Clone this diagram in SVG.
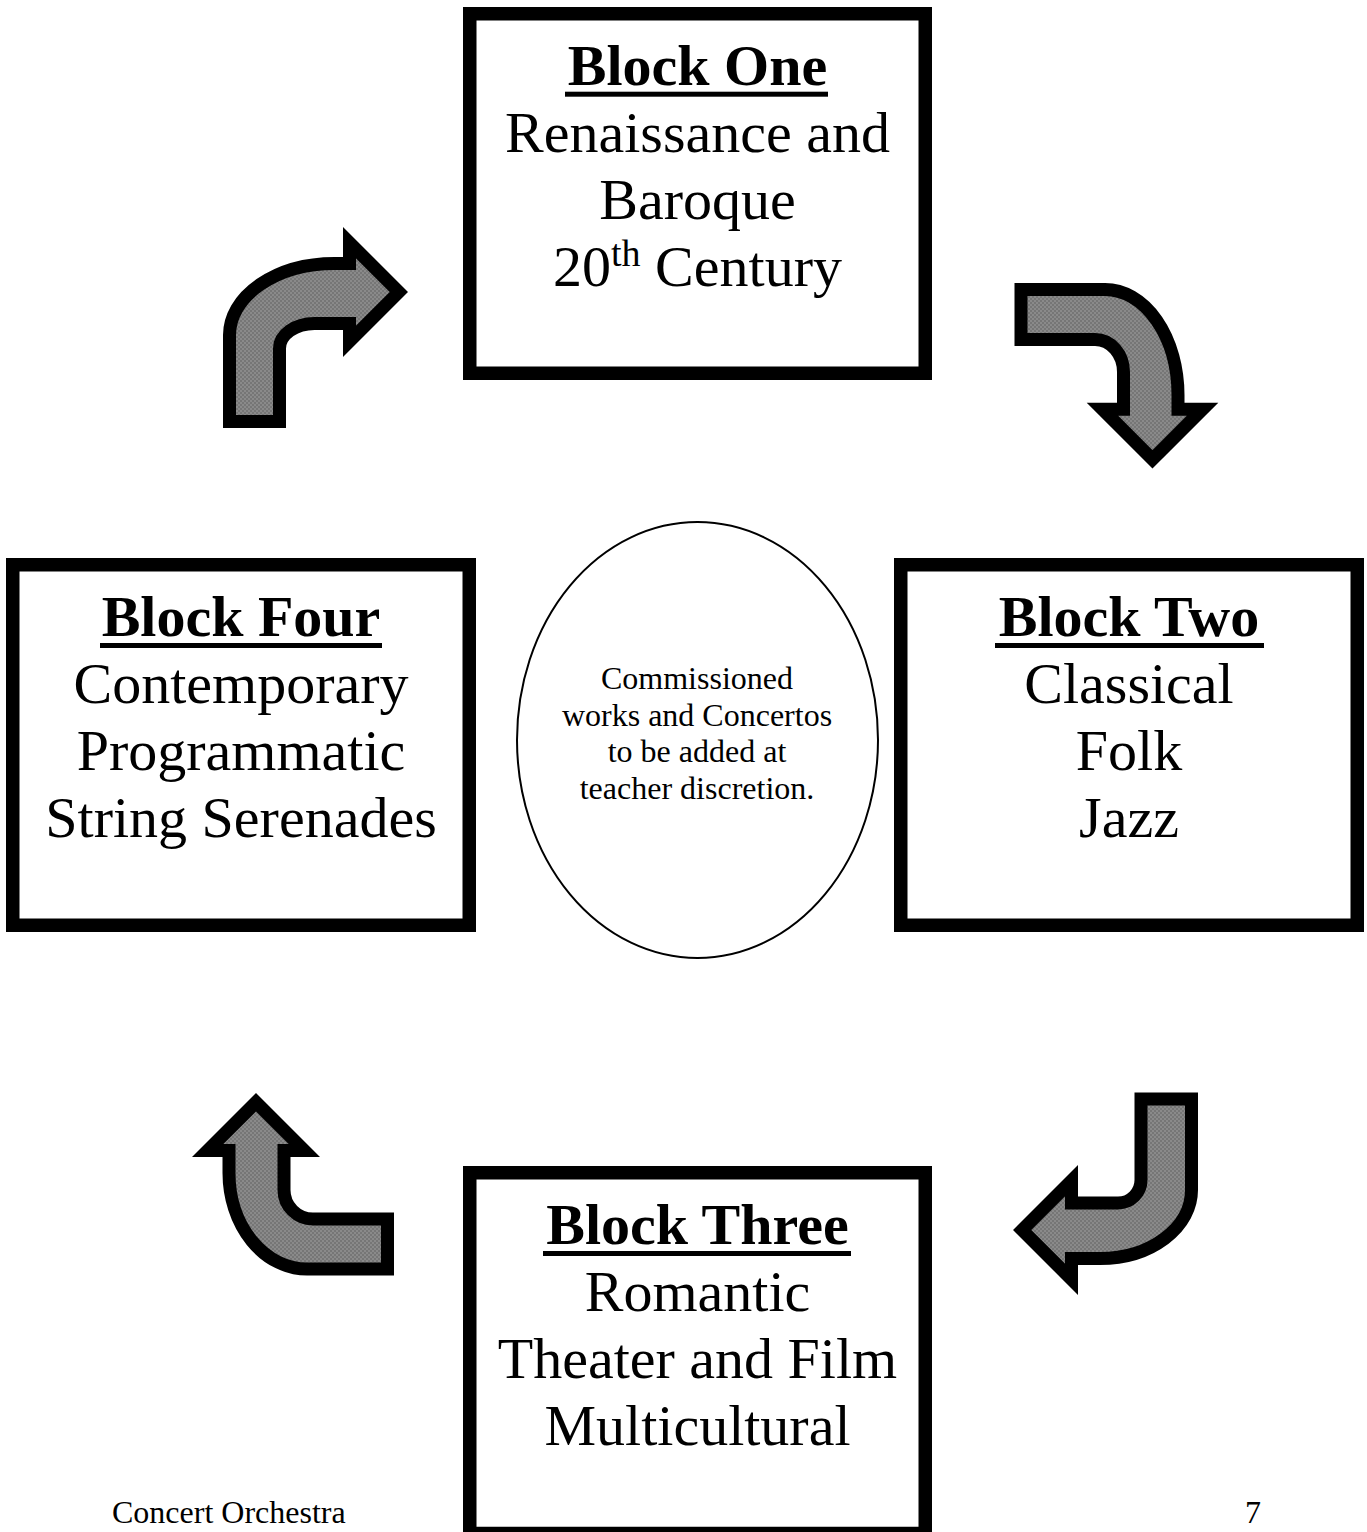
<svg xmlns="http://www.w3.org/2000/svg" width="1367" height="1532" viewBox="0 0 1367 1532">
<style>
.box{fill:#fff;stroke:#000;stroke-width:13.5}
.arrow{fill:url(#checker);stroke:#000;stroke-width:13;stroke-linejoin:miter;stroke-miterlimit:10}
.t{font-family:"Liberation Serif","Times New Roman",serif;fill:#000;text-anchor:middle}
.big{font-size:58px}
.hd{font-size:58px;font-weight:bold}
.sm{font-size:32px}
.ul{fill:#000}
</style>
<defs>
<pattern id="checker" width="4" height="4" patternUnits="userSpaceOnUse">
<rect width="4" height="4" fill="#8a8a8a"/>
<rect width="2" height="2" fill="#767676"/>
<rect x="2" y="2" width="2" height="2" fill="#767676"/>
</pattern>
</defs>
<rect width="1367" height="1532" fill="#fff"/>

<g id="connectors">
<path class="arrow" d="M229.5 421.5 L229.5 335 A105 71.5 0 0 1 334.5 263.5 L349.5 263.5 L349.5 242.7 L398.8 292 L349.5 341.3 L349.5 323.5 L314.5 323.5 A35 25 0 0 0 279.5 348.5 L279.5 421.5 Z"/>
<path class="arrow" d="M1021 289.5 L1105 289.5 A73 105.5 0 0 1 1178 395 L1178 409.2 L1202.6 409.2 L1152.5 459.3 L1102.4 409.2 L1123.5 409.2 L1123.5 372 A28.5 32.5 0 0 0 1095 339.5 L1021 339.5 Z"/>
<path class="arrow" d="M1141 1099 L1191.5 1099 L1191.5 1190 A91.5 68.5 0 0 1 1100 1258.5 L1071.5 1258.5 L1071.5 1279.3 L1022.2 1230 L1071.5 1180.7 L1071.5 1203 L1118 1203 A23 23 0 0 0 1141 1180 Z"/>
<path class="arrow" d="M387.5 1219 L387.5 1269 L307 1269 A78 96 0 0 1 229 1173 L229 1150.5 L207.7 1150.5 L256 1102.2 L304.3 1150.5 L284 1150.5 L284 1190 A29 29 0 0 0 313 1219 Z"/>
</g>

<g id="block-one">
<rect class="box" x="469.75" y="13.75" width="455.5" height="359.5"/>
<text class="t hd" x="697.5" y="85">Block One</text>
<rect class="ul" x="565" y="91.7" width="263" height="5"/>
<text class="t big" x="697.5" y="152">Renaissance and</text>
<text class="t big" x="697.5" y="219">Baroque</text>
<text class="t big" x="697.5" y="286">20<tspan font-size="38" dy="-20">th</tspan><tspan dy="20"> Century</tspan></text>
</g>

<g id="block-two">
<rect class="box" x="900.75" y="564.75" width="456.5" height="360.5"/>
<text class="t hd" x="1129" y="636">Block Two</text>
<rect class="ul" x="995" y="643" width="269" height="5"/>
<text class="t big" x="1129" y="703">Classical</text>
<text class="t big" x="1129" y="770">Folk</text>
<text class="t big" x="1129" y="837">Jazz</text>
</g>

<g id="block-three">
<rect class="box" x="469.75" y="1172.75" width="455.5" height="360.75"/>
<text class="t hd" x="697.5" y="1244">Block Three</text>
<rect class="ul" x="543" y="1251" width="308" height="5"/>
<text class="t big" x="697.5" y="1311">Romantic</text>
<text class="t big" x="697.5" y="1378">Theater and Film</text>
<text class="t big" x="697.5" y="1445">Multicultural</text>
</g>

<g id="block-four">
<rect class="box" x="12.75" y="564.75" width="456.5" height="360.5"/>
<text class="t hd" x="241" y="636">Block Four</text>
<rect class="ul" x="100" y="643" width="282" height="5"/>
<text class="t big" x="241" y="703">Contemporary</text>
<text class="t big" x="241" y="770">Programmatic</text>
<text class="t big" x="241" y="837">String Serenades</text>
</g>

<g id="center-note">
<ellipse cx="697.5" cy="740" rx="180.5" ry="218" fill="#fff" stroke="#000" stroke-width="2"/>
<text class="t sm" x="697" y="689">Commissioned</text>
<text class="t sm" x="697" y="726">works and Concertos</text>
<text class="t sm" x="697" y="762">to be added at</text>
<text class="t sm" x="697" y="799">teacher discretion.</text>
</g>

<g id="footer">
<text x="112" y="1523" font-family="Liberation Serif, Times New Roman, serif" font-size="32">Concert Orchestra</text>
<text x="1245" y="1523" font-family="Liberation Serif, Times New Roman, serif" font-size="32">7</text>
</g>
</svg>
